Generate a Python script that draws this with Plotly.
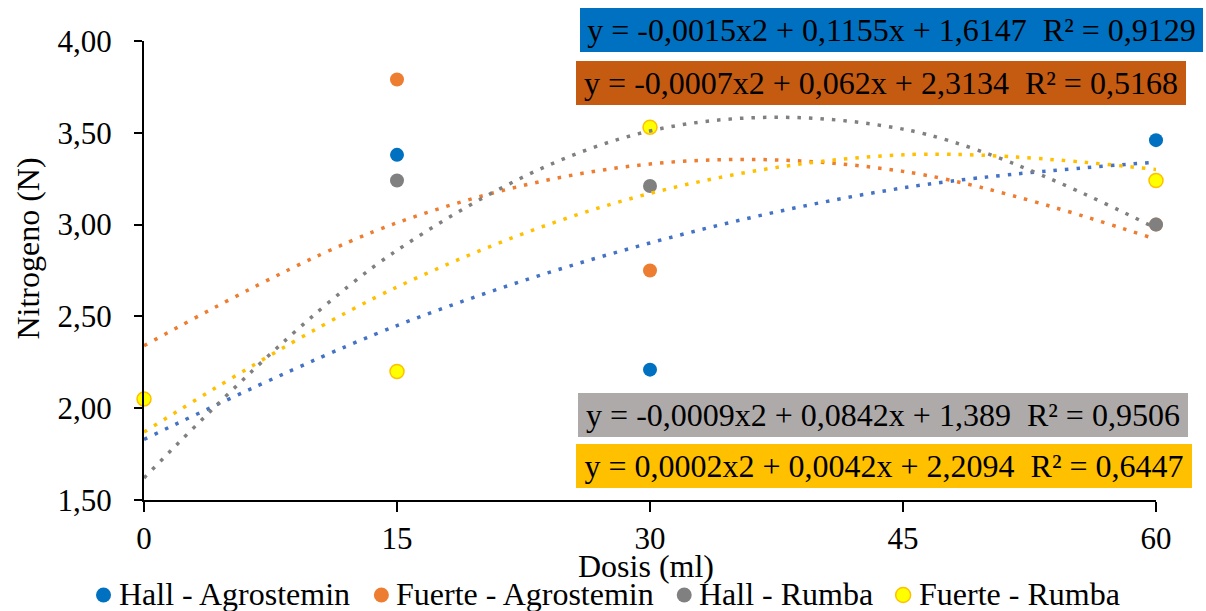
import plotly.graph_objects as go

# ---- data ----
dosis = [0, 15, 30, 60]
hall_agro = [2.05, 3.38, 2.21, 3.46]
fuerte_agro = [2.05, 3.79, 2.75, 3.00]
hall_rumba = [2.05, 3.24, 3.21, 3.00]
fuerte_rumba = [2.05, 2.20, 3.53, 3.24]

trend_x = [0, 15, 30, 45, 60]
trend_hall_agro = [1.83, 2.45, 2.90, 3.20, 3.34]
trend_fuerte_agro = [2.34, 3.01, 3.33, 3.29, 2.92]
trend_hall_rumba = [1.62, 2.86, 3.51, 3.52, 2.98]
trend_fuerte_rumba = [1.87, 2.66, 3.17, 3.38, 3.30]

names = ["Hall - Agrostemin", "Fuerte - Agrostemin", "Hall - Rumba", "Fuerte - Rumba"]
equations = [
    "y = -0,0015x2 + 0,1155x + 1,6147  R² = 0,9129",
    "y = -0,0007x2 + 0,062x + 2,3134  R² = 0,5168",
    "y = -0,0009x2 + 0,0842x + 1,389  R² = 0,9506",
    "y = 0,0002x2 + 0,0042x + 2,2094  R² = 0,6447",
]
x_title = "Dosis (ml)"
y_title = "Nitrogeno (N)"
x_ticks = [0, 15, 30, 45, 60]
y_ticks = [1.5, 2.0, 2.5, 3.0, 3.5, 4.0]

# ---- styles ----
FONT = "Liberation Serif"
marker_fill = ["#0070C0", "#ED7D31", "#808080", "#FFFF00"]
marker_line = ["#0070C0", "#ED7D31", "#808080", "#FFC000"]
trend_col = ["#4472C4", "#ED7D31", "#808080", "#FFC000"]
box_col = ["#0070C0", "#C55A11", "#AEAAAA", "#FFC000"]

W, H = 1206, 611
L, R, T, B = 143.5, 50, 41, 111
pw = W - L - R
ph = H - T - B


def px(xp):
    return (xp - L) / pw


def py(yp):
    return (H - B - yp) / ph


fig = go.Figure()
series = [hall_agro, fuerte_agro, hall_rumba, fuerte_rumba]
for i, ys in enumerate(series):
    fig.add_trace(go.Scatter(
        x=dosis, y=ys, mode="markers", name=names[i], showlegend=False,
        marker=dict(size=14, color=marker_fill[i],
                    line=dict(color=marker_line[i], width=1.5 if i == 3 else 0)),
        cliponaxis=False,
    ))

trends = [trend_hall_agro, trend_fuerte_agro, trend_hall_rumba, trend_fuerte_rumba]
for i, ys in enumerate(trends):
    fig.add_trace(go.Scatter(
        x=trend_x, y=ys, mode="lines", showlegend=False, hoverinfo="skip",
        line=dict(color=trend_col[i], width=3.5, dash="3.5px,8px", shape="spline"),
        cliponaxis=False,
    ))

# equation boxes (pixel positions: left, top, width)
boxes = [(580, 8, 623), (576, 61, 610), (578, 393, 610), (576, 444, 616)]
for i, (bx, by, bw) in enumerate(boxes):
    fig.add_annotation(
        text=equations[i], xref="paper", yref="paper",
        x=px(bx), y=py(by), xanchor="left", yanchor="top",
        showarrow=False, width=bw, height=44, align="center", valign="middle",
        bgcolor=box_col[i], borderpad=0, borderwidth=0,
        font=dict(family=FONT, size=32, color="black"),
    )

# axis titles
fig.add_annotation(
    text=x_title, xref="paper", yref="paper", x=px(646), y=py(566),
    xanchor="center", yanchor="middle", showarrow=False, borderpad=0,
    font=dict(family=FONT, size=32, color="black"),
)
fig.add_annotation(
    text=y_title, xref="paper", yref="paper", x=px(27), y=py(249),
    xanchor="center", yanchor="middle", showarrow=False, textangle=-90,
    borderpad=0, font=dict(family=FONT, size=32, color="black"),
)

# legend drawn as circles + text (pixel positions)
leg_marker_x = [103, 381, 684, 903]
leg_text_x = [117, 395, 698, 918]
leg_y = 595
for i in range(4):
    r = 7.5
    fig.add_shape(
        type="circle", xref="paper", yref="paper",
        x0=px(leg_marker_x[i] - r), x1=px(leg_marker_x[i] + r),
        y0=py(leg_y + r), y1=py(leg_y - r),
        fillcolor=marker_fill[i],
        line=dict(color=marker_line[i], width=1.5 if i == 3 else 0),
    )
    fig.add_annotation(
        text=names[i], xref="paper", yref="paper",
        x=px(leg_text_x[i]), y=py(leg_y - 1), xanchor="left", yanchor="middle",
        showarrow=False, font=dict(family=FONT, size=32, color="black"),
        borderpad=0,
    )

fig.update_layout(
    width=W, height=H,
    margin=dict(l=L, r=R, t=T, b=B, autoexpand=False),
    paper_bgcolor="white", plot_bgcolor="white",
    separators=",.",
    font=dict(family=FONT, size=31, color="black"),
    showlegend=False,
)
fig.update_xaxes(
    range=[0, 60], tickvals=x_ticks, ticks="outside", ticklen=10, tickwidth=2,
    tickcolor="black", showline=True, linecolor="black", linewidth=2,
    showgrid=False, zeroline=False,
    tickfont=dict(family=FONT, size=31),
)
fig.update_yaxes(
    range=[1.5, 4.0], tickvals=y_ticks, tickformat=".2f", ticks="outside",
    ticklen=8, tickwidth=2, tickcolor="black", showline=True, linecolor="black",
    linewidth=2, showgrid=False, zeroline=False,
    tickfont=dict(family=FONT, size=31), ticklabelstandoff=16,
)

fig.write_html("out.html")
